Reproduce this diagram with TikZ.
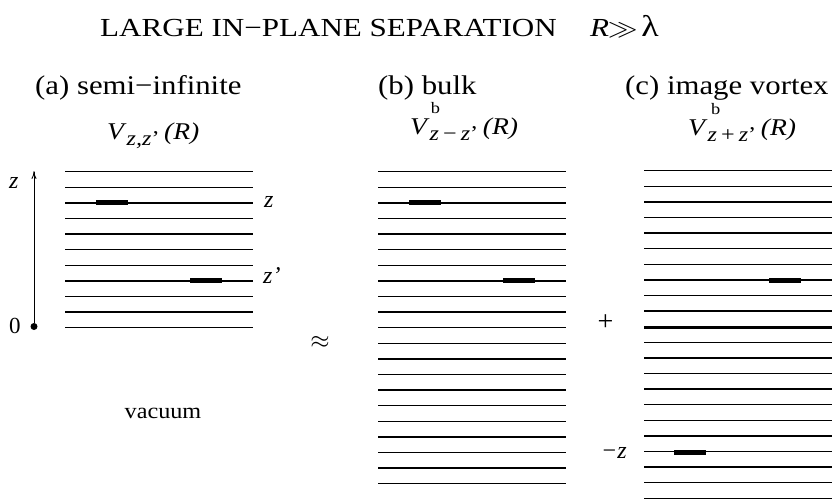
\documentclass[tikz,border=0pt]{standalone}
\usepackage{fontspec}
\setmainfont{Liberation Serif}
\usetikzlibrary{arrows.meta}
\newcommand{\subsz}{\fontsize{21}{24}\selectfont}
\newcommand{\supsz}{\fontsize{16}{18}\selectfont}
\begin{document}
\begin{tikzpicture}[x=1pt,y=-1pt,
  layer/.style={line width=1.3pt},
  surface/.style={line width=3pt},
  vortex/.style={line width=5pt},
  txt/.style={inner sep=0pt,anchor=base west},
  lbl/.style={txt,font=\fontsize{27}{30}\selectfont},
  vlbl/.style={txt,font=\fontsize{24}{28}\selectfont},
  zlbl/.style={txt,font=\fontsize{24}{28}\selectfont\itshape}]
\useasboundingbox (0,0) rectangle (837,499);
% titles
\node[txt,font=\fontsize{26}{30}\selectfont] (title) at (100,36) {\scalebox{1.195}[1]{LARGE IN−PLANE SEPARATION}};
\node[txt,font=\fontsize{26}{30}\selectfont] (cond) at (590,36) {\scalebox{1.195}[1]{\textit{R}\kern-1pt$\gg$\kern3pt{\fontsize{30}{30}\selectfont λ}}};
\node[lbl] (ta) at (35,94) {\scalebox{1.14}[1]{(a) semi−infinite}};
\node[lbl] (tb) at (378,94) {\scalebox{1.14}[1]{(b) bulk}};
\node[lbl] (tc) at (625,94) {\scalebox{1.14}[1]{(c) image vortex}};
\node[vlbl] (va) at (107,139) {\scalebox{1.15}[1]{\textit{V}\raisebox{-6pt}{\subsz\textit{z,z}’}\,\textit{(R)}}};
\node[vlbl] (vb) at (410,134) {\scalebox{1.15}[1]{\textit{V}\rlap{\raisebox{21pt}{\supsz\kern1pt b}}\raisebox{-6pt}{\subsz\textit{z}\,−\,\textit{z}’}\,\textit{(R)}}};
\node[vlbl] (vc) at (688,135) {\scalebox{1.15}[1]{\textit{V}\rlap{\raisebox{21pt}{\supsz\kern3pt b}}\raisebox{-6pt}{\subsz\textit{z}\,+\,\textit{z}’}\,\textit{(R)}}};
% panel (a)
\foreach \i in {0,...,10} \draw[layer] (65,{171.7+15.6*\i}) -- (253,{171.7+15.6*\i});
\draw[vortex] (96,202.9) -- (128,202.9);
\draw[vortex] (190,280.9) -- (222,280.9);
\node[circle,fill,inner sep=0pt,minimum size=7pt] (origin) at (34,326.5) {};
\coordinate (ztop) at (34,171);
\draw[line width=0.8pt,-{To[length=8pt,width=5pt]}] (origin) -- (ztop);
\node[zlbl] (zax) at (9,188) {z};
\node[txt,font=\fontsize{23}{26}\selectfont] (zero) at (9,333) {0};
\node[zlbl] (zr) at (264,207) {z};
\node[zlbl] (zpr) at (263,283) {z’};
\node[inner sep=0pt] (approx) at (320,342.5) {\fontsize{24}{28}\selectfont$\approx$};
\node[inner sep=0pt,font=\fontsize{22}{26}\selectfont] (vac) at (163,413) {\scalebox{1.1}[1]{vacuum}};
% panel (b)
\foreach \i in {0,...,20} \draw[layer] (378,{171.7+15.6*\i}) -- (566,{171.7+15.6*\i});
\draw[vortex] (409,202.9) -- (441,202.9);
\draw[vortex] (503,280.9) -- (535,280.9);
% panel (c)
\foreach \i in {0,...,21} \draw[layer] (644,{170.7+15.6*\i}) -- (832,{170.7+15.6*\i});
\draw[surface] (644,327) -- (832,327);
\draw[vortex] (769,280) -- (801,280);
\draw[vortex] (674,452.4) -- (706,452.4);
\node[inner sep=0pt,font=\fontsize{28}{30}\selectfont] (plus) at (605.5,322.5) {+};
\node[zlbl] (mz) at (601,458) {−z};
\end{tikzpicture}
\end{document}
